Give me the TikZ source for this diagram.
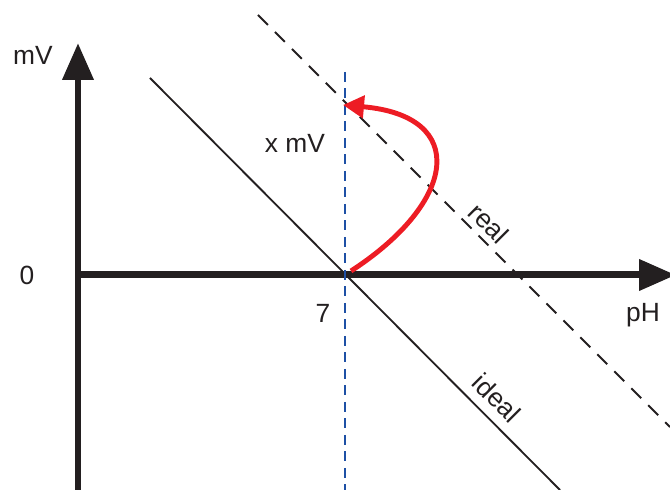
\documentclass[tikz,border=0pt]{standalone}
\usepackage{fontspec}
\setmainfont{Liberation Sans}
\usetikzlibrary{arrows.meta}
\definecolor{curvered}{RGB}{237,28,36}
\definecolor{guideblue}{RGB}{30,80,165}
\definecolor{axisblack}{RGB}{35,31,32}

\begin{document}
\begin{tikzpicture}[
    x=0.02cm, y=0.02cm,
    font=\fontsize{15}{18}\selectfont,
    axisarr/.style={line width=0.14cm, color=axisblack, -{Triangle[length=0.74cm, width=0.6cm]}},
    idealline/.style={line width=1.05pt, color=axisblack},
    realline/.style={line width=1.05pt, color=axisblack, dash pattern=on 0.28cm off 0.2cm},
    guideline/.style={line width=1.1pt, color=guideblue, dash pattern=on 0.2cm off 0.13cm},
    offsetarr/.style={line width=2.8pt, color=curvered, -{Triangle[length=0.42cm, width=0.44cm]}},
    lab/.style={text=axisblack, inner sep=0pt}
]
\useasboundingbox (0,0) rectangle (670,490);

% axes
\coordinate (origin) at (78,215);
\coordinate (ybot) at (78,0);
\coordinate (ytop) at (78,447);
\coordinate (xtip) at (676,215);
\draw[axisarr] (ybot) -- (ytop);
\draw[axisarr] (origin) -- (xtip);

% ideal and real response lines
\coordinate (idealA) at (150,412);
\coordinate (idealB) at (560,0);
\coordinate (realA) at (258,475);
\coordinate (realB) at (670,63);
\draw[idealline] (idealA) -- (idealB);
\draw[realline] (realA) -- (realB);

% pH 7 guide
\coordinate (guideT) at (345,418);
\coordinate (guideB) at (345,0);
\draw[guideline] (guideT) -- (guideB);

% offset arrow
\coordinate (offS) at (351,219);
\coordinate (offE) at (343,385);
\draw[offsetarr] (offS) to[out=33, in=-5, looseness=1.95] (offE);

% labels
\node[lab] (lmv) at (33,435) {mV};
\node[lab] (lzero) at (27,215) {0};
\node[lab] (lseven) at (323,177) {7};
\node[lab] (lph) at (643,175) {pH};
\node[lab] (lxmv) at (295,347) {x mV};
\node[lab, rotate=-45] (lreal) at (489,267) {real};
\node[lab, rotate=-45] (lideal) at (497,92) {ideal};
\end{tikzpicture}
\end{document}
